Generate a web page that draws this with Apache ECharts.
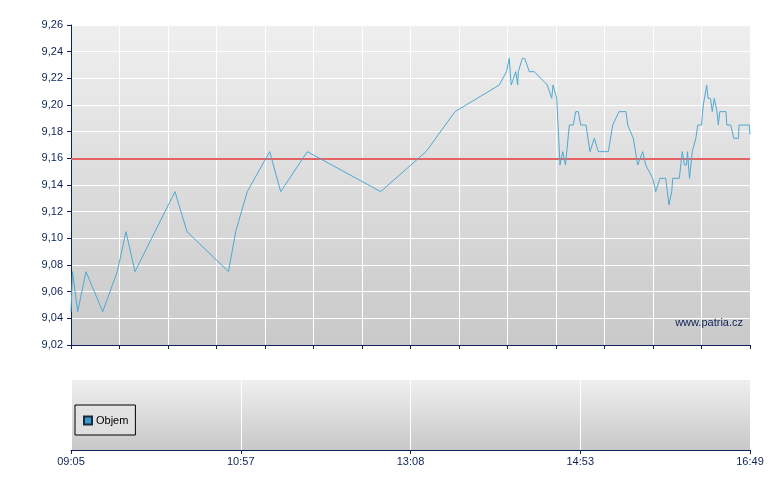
<!DOCTYPE html>
<html>
<head>
<meta charset="utf-8">
<script src="https://cdn.jsdelivr.net/npm/echarts@6/dist/echarts.min.js"></script>
<style>
html,body{margin:0;padding:0;background:#fff;}
#c{width:780px;height:490px;}
</style>
</head>
<body>
<div id="c"></div>
<script>
// ---- data ----
var startTime = "09:05:00";
var endTime = "16:49:00";
var tickLabels = ["09:05", "10:57", "13:08", "14:53", "16:49"];
var refPrice = 9.16;
var times = [
 "09:05:00","09:06:02","09:09:35","09:15:15","09:26:40","09:36:38","09:42:35","09:48:44",
 "10:16:04","10:24:16","10:52:38","10:57:33","11:05:25","11:20:47","11:28:18","11:46:29",
 "12:36:38","13:07:35","13:27:25","13:57:41","14:02:36","14:04:27","14:05:49","14:08:53",
 "14:10:15","14:10:40","14:13:24","14:15:02","14:18:11","14:21:36","14:30:29","14:33:29",
 "14:34:23","14:36:55","14:39:10","14:41:01","14:42:55","14:45:31","14:48:15","14:49:53",
 "14:51:40","14:53:19","14:56:56","14:59:40","15:02:36","15:05:20","15:12:10","15:15:11",
 "15:19:29","15:24:16","15:25:26","15:29:15","15:32:16","15:35:41","15:37:44","15:42:31",
 "15:44:34","15:47:30","15:51:23","15:53:39","15:55:30","15:56:11","16:00:41","16:02:44",
 "16:04:14","16:05:37","16:06:17","16:07:40","16:09:34","16:11:58","16:13:20","16:15:52",
 "16:17:05","16:19:25","16:20:18","16:22:01","16:23:14","16:24:36","16:26:27","16:27:20",
 "16:28:22","16:32:36","16:33:09","16:35:49","16:37:56","16:41:08","16:41:29","16:48:31",
 "16:49:00"
];
var prices = [
 9.045,9.075,9.045,9.075,9.045,9.075,9.105,9.075,
 9.135,9.105,9.075,9.105,9.135,9.165,9.135,9.165,
 9.135,9.165,9.195,9.215,9.225,9.235,9.215,9.225,
 9.215,9.225,9.235,9.235,9.225,9.225,9.215,9.205,
 9.215,9.205,9.155,9.165,9.155,9.185,9.185,9.195,
 9.195,9.185,9.185,9.165,9.175,9.165,9.165,9.185,
 9.195,9.195,9.185,9.175,9.155,9.165,9.155,9.145,
 9.135,9.145,9.145,9.125,9.135,9.145,9.145,9.165,
 9.155,9.155,9.165,9.145,9.165,9.175,9.185,9.185,
 9.200,9.215,9.205,9.205,9.195,9.205,9.195,9.185,
 9.195,9.195,9.185,9.185,9.175,9.175,9.185,9.185,
 9.178
];
var volume = [];

// ---- helpers ----
function toMin(t){ var p=t.split(":"); return (+p[0])*60 + (+p[1]) + (p[2]? (+p[2])/60 : 0); }
var t0 = toMin(startTime), t1 = toMin(endTime);
var span = t1 - t0;
var seriesData = times.map(function(t,i){ return [toMin(t)-t0, prices[i]]; });

var navy = '#0d2256';
var font = '"Liberation Sans", Arial, sans-serif';
function grad(a,b){ return {type:'linear',x:0,y:0,x2:0,y2:1,colorStops:[{offset:0,color:a},{offset:1,color:b}]}; }

var chart = echarts.init(document.getElementById('c'), null, {renderer:'canvas'});
chart.setOption({
  animation:false,
  backgroundColor:'#ffffff',
  grid:[
    {left:71, right:30, top:25, height:320, show:true, borderWidth:0, backgroundColor:grad('#efefef','#c9c9c9')},
    {left:71, right:30, top:380, height:70, show:true, borderWidth:0, backgroundColor:grad('#efefef','#c8c8c8')}
  ],
  legend:{
    data:['Objem'], left:75, top:405, orient:'vertical',
    padding:[10,7,9,8], itemWidth:8, itemHeight:8, icon:'rect',
    borderColor:'#000', borderWidth:1, borderRadius:0,
    backgroundColor:'rgba(228,228,228,0.7)',
    textStyle:{fontFamily:font, fontSize:11, color:'#000', padding:[0,0,0,-1]}
  },
  xAxis:[
    {type:'value', gridIndex:0, min:0, max:span, show:false, position:'bottom'},
    {type:'value', gridIndex:0, min:0, max:14, interval:1, position:'bottom',
     axisLine:{show:true, onZero:false, lineStyle:{color:navy, width:1}},
     axisTick:{show:true, length:4, lineStyle:{color:navy}},
     axisLabel:{show:false},
     splitLine:{show:true, lineStyle:{color:'#ffffff', width:1}}},
    {type:'value', gridIndex:1, min:0, max:span, interval:span/4, position:'bottom',
     axisLine:{show:true, onZero:false, lineStyle:{color:navy, width:1}},
     axisTick:{show:true, length:4, lineStyle:{color:navy}},
     axisLabel:{show:true, margin:6, color:navy, fontFamily:font, fontSize:11,
       showMinLabel:true, showMaxLabel:true,
       formatter:function(v){ return tickLabels[Math.round(v/(span/4))]; }},
     splitLine:{show:true, lineStyle:{color:'#ffffff', width:1}}}
  ],
  yAxis:[
    {type:'value', gridIndex:0, min:9.02, max:9.26, interval:0.02,
     axisLine:{show:true, lineStyle:{color:navy, width:1}},
     axisTick:{show:true, length:4, lineStyle:{color:navy}},
     axisLabel:{margin:8, color:navy, fontFamily:font, fontSize:11,
       formatter:function(v){ return v.toFixed(2).replace('.', ','); }},
     splitLine:{show:true, lineStyle:{color:'#ffffff', width:1}}},
    {type:'value', gridIndex:1, min:0, max:1, show:false, splitLine:{show:false}}
  ],
  series:[
    {name:'Cena', type:'line', xAxisIndex:0, yAxisIndex:0, data:seriesData,
     showSymbol:false, symbol:'none', lineStyle:{color:'#4fa8d2', width:1}, z:3,
     markLine:{silent:true, symbol:'none', label:{show:false}, z:2,
       lineStyle:{color:'#e46464', width:2, type:'solid'}, data:[{yAxis:refPrice}]}},
    {name:'Objem', type:'bar', xAxisIndex:2, yAxisIndex:1, data:volume,
     itemStyle:{color:'#3a98cc', borderColor:'#1a2a40', borderWidth:1}}
  ],
  graphic:[
    {type:'text', right:37, top:317, z:10,
     style:{text:'www.patria.cz', fill:navy, font:'11px "Liberation Sans", Arial, sans-serif'}}
  ]
});
</script>
</body>
</html>
